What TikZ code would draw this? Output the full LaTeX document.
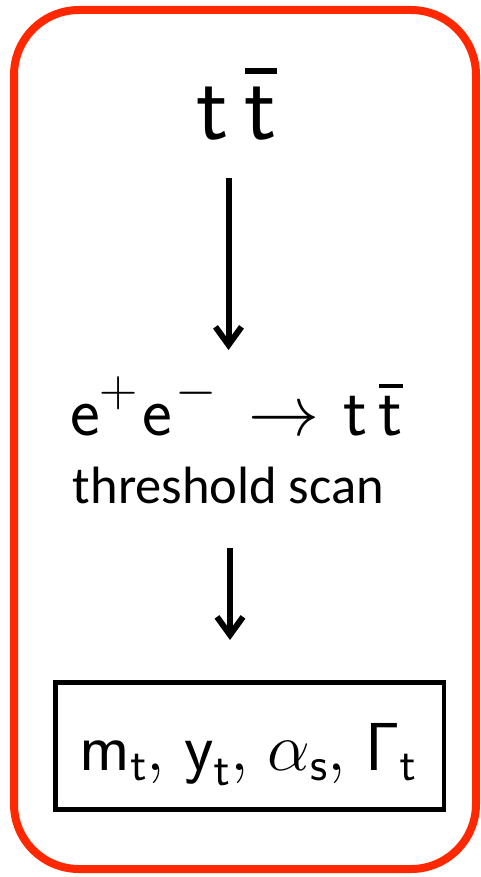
\RequirePackage{fix-cm}
\documentclass[tikz,border=0pt]{standalone}
\usepackage{amsmath}
\usepackage{fontspec}
\newfontfamily\calfont{Carlito}
\usetikzlibrary{arrows.meta}
\definecolor{framered}{RGB}{255,40,0}
\newcommand\cmssf{\fontencoding{OT1}\fontfamily{cmss}\selectfont}
\newcommand\cms[1]{\text{\cmssf #1}}
\newcommand\fsz[1]{\fontsize{#1}{#1}\selectfont}
\newcommand\tbar[1]{\makebox[0pt][l]{\raisebox{#1}{\rule{0.365em}{0.065em}}}t}
\tikzset{
  frame/.style={draw=framered, line width=8pt, rounded corners=65pt, fill=white},
  lbl/.style={inner sep=0pt, outer sep=0pt},
  flow/.style={line width=6pt, -{Straight Barb[length=18pt,width=26pt]}},
  result/.style={draw=black, line width=4.5pt, inner sep=0pt, minimum width=388.5pt, minimum height=127pt}
}
\begin{document}
\begin{tikzpicture}[x=1pt,y=-1pt]
\useasboundingbox (0,0) rectangle (481,877);
\draw[frame] (14,10) rectangle (476,869);
\node[lbl, anchor=base, font=\cmssf\fsz{95}] (tt) at (236.5,140) {t\hspace{16pt}\tbar{0.737em}};
\node[lbl, anchor=base west, font=\cmssf\fsz{71}] (ee) at (70,435)
  {e\raisebox{29pt}{\fsz{53}$+$}\hspace{5pt}e\hspace{3pt}\raisebox{29pt}{\fsz{53}$-$}\hspace{32pt}$\rightarrow$\hspace{24pt}t\hspace{11pt}\tbar{0.7em}};
\node[lbl, anchor=base, font=\calfont\fsz{52.5}] (thr) at (228.5,503) {threshold scan};
\node[result] (box) at (249.75,746) {};
\node[lbl, anchor=base, font=\fsz{68}] (par) at (248,770)
  {$\cms{m}_{\cms{t}},\mskip2mu\cms{y}_{\cms{t}},\mskip2mu\alpha_{\cms{s}},\mskip2mu\cms{\char0}_{\cms{t}}$};
\coordinate (a1s) at (228.5,178);
\coordinate (a1e) at (228.5,350);
\coordinate (a2s) at (230,548);
\coordinate (a2e) at (230,640);
\draw[flow] (a1s) -- (a1e);
\draw[flow] (a2s) -- (a2e);
\end{tikzpicture}
\end{document}
